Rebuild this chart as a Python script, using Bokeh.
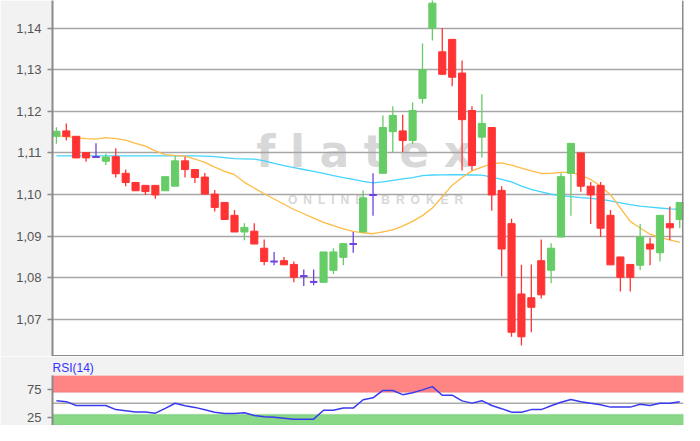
from bokeh.plotting import figure
from bokeh.layouts import column
from bokeh.models import (Range1d, FixedTicker, CustomJSTickFormatter, Span,
                          BoxAnnotation, ColumnDataSource, Label)
from bokeh.embed import file_html
from bokeh.resources import INLINE

# ---------------- data ----------------
opens = [1.1140, 1.1153, 1.1140, 1.1101, 1.1090, 1.1080, 1.1091, 1.1051, 1.1029, 1.1022,
         1.1022, 1.1009, 1.1020, 1.1081, 1.1060, 1.1042, 1.1001, 1.0981, 1.0950, 1.0910,
         1.0912, 1.0871, 1.0839, 1.0841, 1.0832, 1.0804, 1.0790, 1.0789, 1.0818, 1.0849,
         1.0881, 1.0910, 1.0999, 1.1051, 1.1151, 1.1153, 1.1130, 1.1231, 1.1400, 1.1343,
         1.1373, 1.1292, 1.1202, 1.1138, 1.1161, 1.1010, 1.0930, 1.0761, 1.0752, 1.0841,
         1.0818, 1.0898, 1.1051, 1.1100, 1.1020, 1.1022, 1.0950, 1.0850, 1.0832, 1.0830,
         1.0881, 1.0860, 1.0930, 1.0940]
highs = [1.1162, 1.1171, 1.1140, 1.1101, 1.1123, 1.1098, 1.1111, 1.1060, 1.1030, 1.1022,
         1.1022, 1.1043, 1.1093, 1.1091, 1.1060, 1.1052, 1.1011, 1.0981, 1.0963, 1.0931,
         1.0931, 1.0892, 1.0862, 1.0850, 1.0839, 1.0820, 1.0820, 1.0862, 1.0871, 1.0882,
         1.0910, 1.1010, 1.1051, 1.1190, 1.1212, 1.1192, 1.1221, 1.1363, 1.1475, 1.1400,
         1.1373, 1.1322, 1.1212, 1.1241, 1.1161, 1.1020, 1.0942, 1.0831, 1.0832, 1.0892,
         1.0883, 1.1051, 1.1123, 1.1100, 1.1030, 1.1030, 1.0963, 1.0850, 1.0832, 1.0929,
         1.0896, 1.0950, 1.0971, 1.0981]
lows = [1.1122, 1.1130, 1.1088, 1.1079, 1.1090, 1.1071, 1.1041, 1.1020, 1.1009, 1.0999,
        1.0990, 1.1009, 1.1020, 1.1041, 1.1028, 1.1001, 1.0959, 1.0940, 1.0910, 1.0890,
        1.0881, 1.0830, 1.0830, 1.0831, 1.0789, 1.0780, 1.0782, 1.0789, 1.0809, 1.0830,
        1.0860, 1.0910, 1.0949, 1.1051, 1.1102, 1.1102, 1.1122, 1.1219, 1.1370, 1.1289,
        1.1260, 1.1058, 1.1058, 1.1089, 1.0961, 1.0803, 1.0658, 1.0637, 1.0669, 1.0750,
        1.0787, 1.0898, 1.0949, 1.1007, 1.0929, 1.0898, 1.0831, 1.0767, 1.0767, 1.0818,
        1.0830, 1.0839, 1.0890, 1.0919]
closes = [1.1152, 1.1140, 1.1088, 1.1088, 1.1090, 1.1090, 1.1050, 1.1029, 1.1009, 1.1007,
          1.0999, 1.1043, 1.1081, 1.1060, 1.1041, 1.1001, 1.0969, 1.0940, 1.0910, 1.0921,
          1.0881, 1.0839, 1.0839, 1.0831, 1.0801, 1.0804, 1.0790, 1.0862, 1.0862, 1.0882,
          1.0881, 1.0992, 1.0999, 1.1161, 1.1190, 1.1130, 1.1202, 1.1300, 1.1460, 1.1289,
          1.1282, 1.1180, 1.1070, 1.1171, 1.0999, 1.0869, 1.0669, 1.0658, 1.0729, 1.0759,
          1.0871, 1.1043, 1.1123, 1.1020, 1.0999, 1.0919, 1.0831, 1.0801, 1.0801, 1.0898,
          1.0869, 1.0950, 1.0920, 1.0981]

# moving averages (orange = fast, cyan = slow)
ma_fast = [1.11415, 1.11392, 1.11369, 1.11346, 1.11330, 1.11369, 1.11346, 1.11307, 1.11232, 1.11163,
           1.11048, 1.10957, 1.10934, 1.10923, 1.10854, 1.10774, 1.10660, 1.10557, 1.10476, 1.10293,
           1.10156, 1.10019, 1.09893, 1.09767, 1.09641, 1.09538, 1.09435, 1.09332, 1.09252, 1.09172,
           1.09115, 1.09081, 1.09058, 1.09104, 1.09149, 1.09241, 1.09355, 1.09493, 1.09676, 1.09950,
           1.10225, 1.10408, 1.10568, 1.10660, 1.10740, 1.10762, 1.10705, 1.10637, 1.10568, 1.10506,
           1.10511, 1.10534, 1.10534, 1.10465, 1.10362, 1.10202, 1.09996, 1.09676, 1.09355, 1.09195,
           1.09046, 1.08966, 1.08909, 1.08852]
ma_slow = [1.10927, 1.10927, 1.10927, 1.10927, 1.10927, 1.10927, 1.10927, 1.10927, 1.10927, 1.10927,
           1.10927, 1.10927, 1.10927, 1.10927, 1.10927, 1.10923, 1.10911, 1.10888, 1.10865, 1.10859,
           1.10852, 1.10808, 1.10751, 1.10694, 1.10648, 1.10602, 1.10557, 1.10506, 1.10454, 1.10408,
           1.10362, 1.10316, 1.10282, 1.10305, 1.10339, 1.10374, 1.10408, 1.10454, 1.10470, 1.10472,
           1.10476, 1.10476, 1.10470, 1.10465, 1.10419, 1.10362, 1.10305, 1.10202, 1.10122, 1.10065,
           1.10007, 1.09973, 1.09950, 1.09927, 1.09909, 1.09886, 1.09847, 1.09802, 1.09756, 1.09721,
           1.09699, 1.09676, 1.09657, 1.09646]

rsi = [54.7, 52.9, 46.0, 46.0, 46.0, 46.0, 38.6, 36.6, 34.5, 34.5,
       32.2, 40.9, 50.0, 45.5, 42.6, 38.3, 34.0, 31.7, 31.4, 32.8,
       27.9, 25.7, 24.8, 23.1, 21.4, 21.4, 21.4, 37.4, 37.4, 41.4,
       41.4, 56.4, 59.8, 73.1, 73.1, 65.5, 69.1, 74.1, 80.0, 64.5,
       64.5, 54.3, 50.3, 54.7, 46.0, 40.3, 34.0, 34.0, 38.6, 38.6,
       45.5, 51.9, 56.9, 52.9, 50.0, 47.2, 43.1, 43.1, 43.1, 48.3,
       46.0, 50.0, 50.0, 52.9]

price_ticks = [1.07, 1.08, 1.09, 1.10, 1.11, 1.12, 1.13, 1.14]
rsi_ticks = [25, 75]
RSI_HIGH, RSI_MID, RSI_LOW, RSI_MAX = 70, 50, 30, 100

# ---------------- styling ----------------
GREEN, RED, DOJI = "#66cc66", "#ff3333", "#6f42e0"
ORANGE, CYAN, RSI_BLUE = "#ffbb44", "#44d4ff", "#3a3af0"
BORDER_BG = "#f2f2f2"
AXIS_C = "#8a8a8a"
LABEL_C = "#555555"
FONT = "Liberation Sans"
WM_C = "#d8d8d8"

n = len(opens)
idx = list(range(n))
colors = [GREEN if c > o else (RED if c < o else DOJI) for o, c in zip(opens, closes)]
src = ColumnDataSource(dict(
    x=idx, high=highs, low=lows,
    top=[max(o, c) for o, c in zip(opens, closes)],
    bottom=[min(o, c) for o, c in zip(opens, closes)],
    color=colors))
doji = [i for i in idx if opens[i] == closes[i]]
doji_src = ColumnDataSource(dict(x0=[i - 0.36 for i in doji], x1=[i + 0.36 for i in doji],
                                 y=[closes[i] for i in doji]))

x_range = Range1d(-0.395, n - 1 + 0.38)
price_range = Range1d(1.06107, 1.14664)

p = figure(frame_width=631, frame_height=356, x_range=x_range, y_range=price_range,
           x_axis_type=None, toolbar_location=None, output_backend="svg",
           min_border_left=52, min_border_right=1, min_border_top=0, min_border_bottom=0)
p.background_fill_color = "#ffffff"
p.border_fill_color = BORDER_BG
p.outline_line_color = None

ax = p.yaxis[0]
ax.ticker = FixedTicker(ticks=price_ticks)
ax.formatter = CustomJSTickFormatter(code="return tick.toFixed(2).replace('.', ',');")
ax.major_label_text_font = FONT
ax.major_label_text_font_size = "13px"
ax.major_label_text_color = LABEL_C
ax.axis_line_color = AXIS_C
ax.axis_line_width = 2
ax.major_tick_line_color = AXIS_C
ax.major_tick_line_width = 1.5
ax.major_tick_out = 5
ax.major_tick_in = 0
ax.minor_tick_line_color = None
ax.major_label_standoff = 6

g = p.ygrid[0]
g.ticker = FixedTicker(ticks=price_ticks)
g.grid_line_color = "#a6a6a6"
g.grid_line_width = 1.5

# watermark (drawn below the grid)
xw = x_range.end - x_range.start
span_y = price_range.end - price_range.start
p.add_layout(Label(x=x_range.start + 0.494 * xw, y=price_range.start + 0.575 * span_y,
                   text="\u2004".join("flatex"),
                   text_align="center", text_baseline="alphabetic", text_font="DejaVu Sans",
                   text_font_style="bold", text_font_size="44px", text_color=WM_C,
                   level="image"))
p.add_layout(Label(x=x_range.start + 0.512 * xw, y=price_range.start + 0.44 * span_y,
                   text="\u2002".join("ONLINE") + "\u2003\u2002" + "\u2002".join("BROKER"),
                   text_align="center", text_baseline="alphabetic", text_font=FONT,
                   text_font_style="bold", text_font_size="12px", text_color=WM_C,
                   level="image"))

# moving averages
p.line(idx, ma_slow, line_color=CYAN, line_width=1.3)
p.line(idx, ma_fast, line_color=ORANGE, line_width=1.3)

# candles
p.segment(x0="x", y0="low", x1="x", y1="high", source=src, line_color="color", line_width=1.3)
p.vbar(x="x", width=0.72, top="top", bottom="bottom", source=src,
       fill_color="color", line_color="color", line_width=1)
p.segment(x0="x0", y0="y", x1="x1", y1="y", source=doji_src, line_color=DOJI, line_width=2)

# frame borders (bottom and right)
p.add_layout(Span(location=price_range.start, dimension="width", line_color=AXIS_C, line_width=3))
p.add_layout(Span(location=x_range.end, dimension="height", line_color=AXIS_C, line_width=3))

# ---------------- RSI panel ----------------
p2 = figure(frame_width=631, frame_height=50, x_range=x_range, y_range=Range1d(10, RSI_MAX),
            x_axis_type=None, toolbar_location=None, output_backend="svg", title="RSI(14)",
            min_border_left=52, min_border_right=1, min_border_top=19, min_border_bottom=0)
p2.background_fill_color = "#ffffff"
p2.border_fill_color = BORDER_BG
p2.outline_line_color = None
p2.title.text_color = "#3333ff"
p2.title.text_font = FONT
p2.title.text_font_size = "12px"
p2.title.text_font_style = "normal"
p2.title.standoff = 2
p2.title.offset = 0

ax2 = p2.yaxis[0]
ax2.ticker = FixedTicker(ticks=rsi_ticks)
ax2.major_label_text_font = FONT
ax2.major_label_text_font_size = "13px"
ax2.major_label_text_color = LABEL_C
ax2.axis_line_color = AXIS_C
ax2.axis_line_width = 2
ax2.major_tick_line_color = AXIS_C
ax2.major_tick_line_width = 1.5
ax2.major_tick_out = 5
ax2.major_tick_in = 0
ax2.minor_tick_line_color = None
ax2.major_label_standoff = 6
p2.ygrid.visible = False

p2.add_layout(BoxAnnotation(bottom=RSI_HIGH, top=RSI_MAX, fill_color="#ff8585", fill_alpha=1,
                            line_color="#e06464", line_width=1.5, level="underlay"))
p2.add_layout(BoxAnnotation(top=RSI_LOW, fill_color="#88d888", fill_alpha=1,
                            line_color="#5fbf5f", line_width=1.5, level="underlay"))
p2.add_layout(Span(location=RSI_MID, dimension="width", line_color="#aaaaaa", line_width=1.5,
                   level="underlay"))
p2.line(idx, rsi, line_color=RSI_BLUE, line_width=1.5)

layout = column(p, p2, spacing=0)
open("out.html", "w").write(file_html(layout, INLINE))
